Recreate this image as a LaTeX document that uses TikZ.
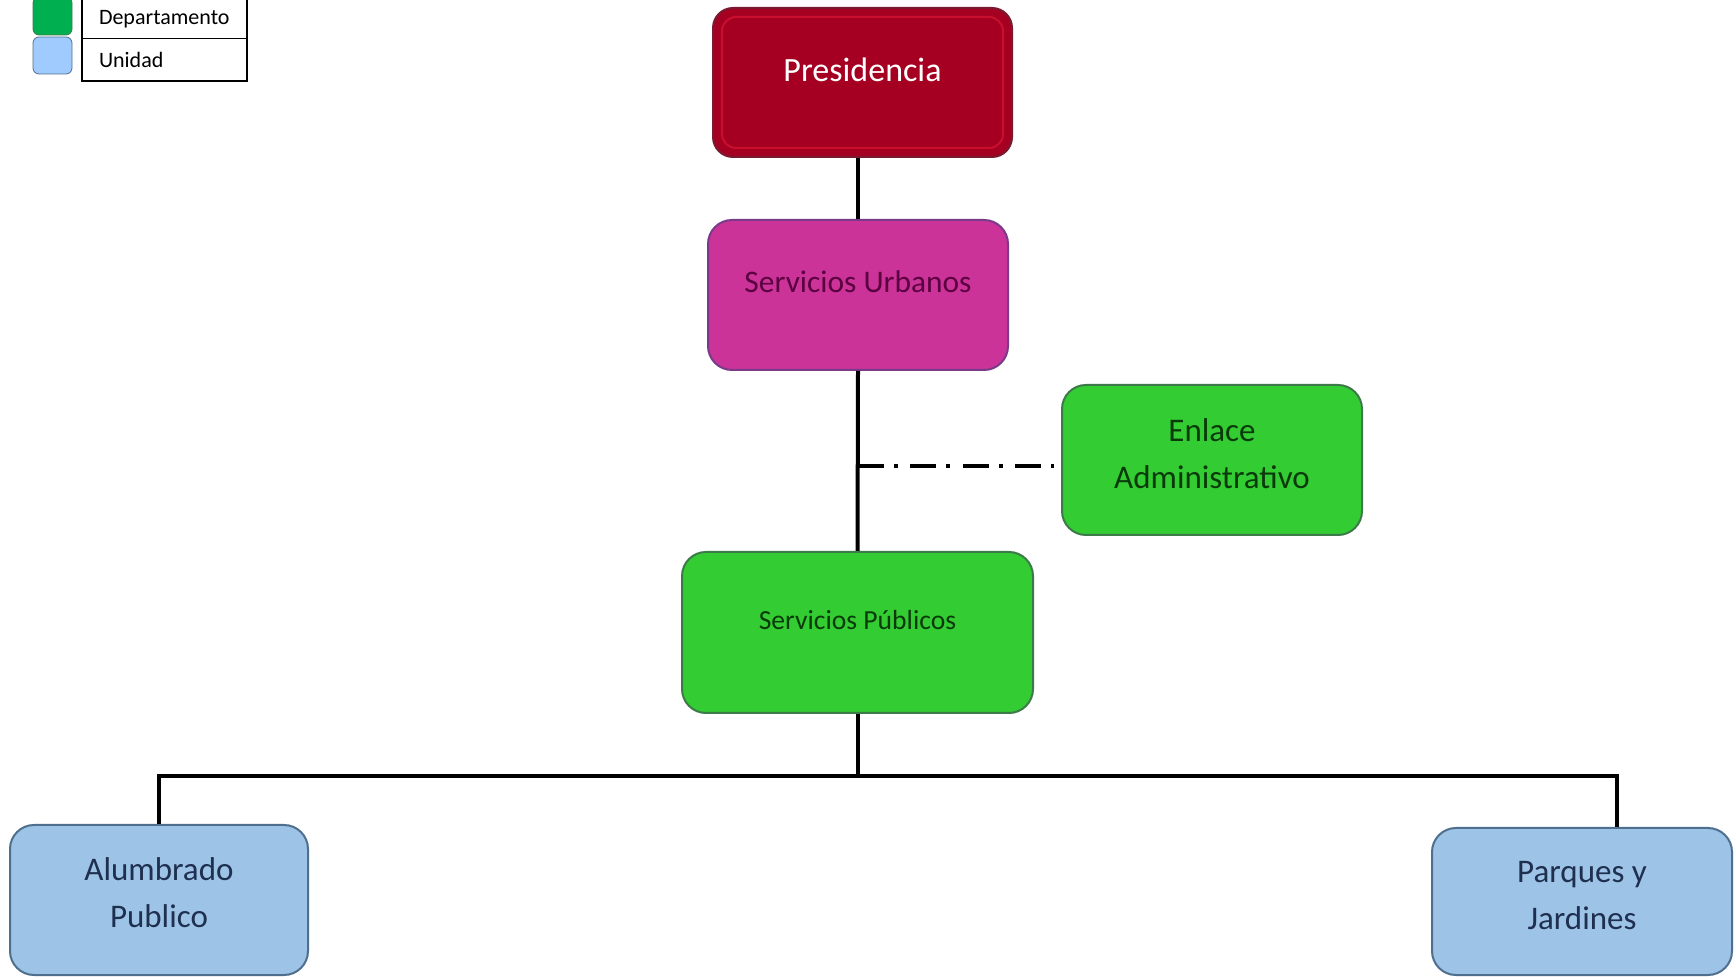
\documentclass[tikz,border=0pt]{standalone}
\usepackage{fontspec}
\setmainfont{Carlito}
\definecolor{presfill}{HTML}{A50021}
\definecolor{presline}{HTML}{7A1A30}
\definecolor{presinner}{HTML}{C8102E}
\definecolor{urbfill}{HTML}{CC3399}
\definecolor{urbline}{HTML}{7A3A8A}
\definecolor{urbtext}{HTML}{5A0040}
\definecolor{depfill}{HTML}{33CC33}
\definecolor{depline}{HTML}{3D7A4A}
\definecolor{deptext}{HTML}{0A3A0A}
\definecolor{unifill}{HTML}{9DC3E6}
\definecolor{uniline}{HTML}{4F6F8F}
\definecolor{unitext}{HTML}{1F2F4F}
\definecolor{leggreen}{HTML}{00B050}
\definecolor{legblue}{HTML}{A0CBFF}
\begin{document}
\begin{tikzpicture}[x=0.5pt,y=-0.5pt,
  box/.style={rounded corners=12pt, line width=1pt, inner sep=0pt},
  bigtext/.style={font=\fontsize{16.5}{23.5}\selectfont, align=center},
  conn/.style={line width=2pt, black}]
\clip (0,0) rectangle (1735,977);
% legend:
\node[draw=depline, fill=leggreen, rounded corners=3pt, minimum width=19.5pt, minimum height=19pt, inner sep=0pt] (legdep) at (52.5,16) {};
\node[draw=uniline, fill=legblue, rounded corners=3pt, minimum width=19.5pt, minimum height=18.5pt, inner sep=0pt] (leguni) at (52.5,55.5) {};
\node[draw, line width=0.8pt, minimum height=19.75pt, text width=65.5pt, inner xsep=8.5pt, align=left, font=\fontsize{11}{13}\selectfont] (celldep) at (164.5,18.75) {Departamento};
\node[draw, line width=0.8pt, minimum height=21.25pt, text width=65.5pt, inner xsep=8.5pt, align=left, font=\fontsize{11}{13}\selectfont] (celluni) at (164.5,59.75) {Unidad};
% boxes:
\node[box, draw=presline, fill=presfill, rounded corners=10pt, minimum width=149.5pt, minimum height=74.5pt,
  label={[bigtext, text=white, font=\fontsize{17}{20}\selectfont, yshift=6.5pt]center:Presidencia}] (pres) at (862.5,82.5) {};
\draw[presinner, line width=1pt, rounded corners=7pt] ([shift={(5pt,-5pt)}]pres.north west) rectangle ([shift={(-5pt,5pt)}]pres.south east);
\node[box, draw=urbline, fill=urbfill, minimum width=150pt, minimum height=75pt,
  label={[bigtext, text=urbtext, font=\fontsize{15.7}{19}\selectfont, yshift=6.5pt]center:Servicios Urbanos}] (urb) at (858,295) {};
\node[box, draw=depline, fill=depfill, minimum width=150pt, minimum height=75pt,
  label={[bigtext, text=deptext, yshift=3pt]center:Enlace\\Administrativo}] (enl) at (1212,460) {};
\node[box, draw=depline, fill=depfill, minimum width=175.5pt, minimum height=80.5pt,
  label={[bigtext, text=deptext, font=\fontsize{13.8}{17}\selectfont, yshift=6pt]center:Servicios Públicos}] (pub) at (857.5,632.5) {};
\node[box, draw=uniline, fill=unifill, minimum width=149pt, minimum height=75pt,
  label={[bigtext, text=unitext, yshift=3.5pt]center:Alumbrado\\Publico}] (alu) at (159,900) {};
\node[box, draw=uniline, fill=unifill, minimum width=150pt, minimum height=73.5pt,
  label={[bigtext, text=unitext, yshift=3pt]center:Parques y\\Jardines}] (par) at (1582,901.5) {};
% lines:
\coordinate (bus) at (857.5,776);
\coordinate (tap) at ([shift={(-3.5pt,-3pt)}]enl.west);
\draw[conn] (pres.south -| urb.north) -- (urb.north);
\draw[conn] (urb.south) -- (pub.north);
\draw[conn, dash pattern=on 13pt off 5pt on 2pt off 6.2pt] (tap -| urb.south) -- (tap);
\draw[conn] (pub.south) -- (bus);
\draw[conn] (alu.north) |- (bus) -| ([xshift=17.5pt]par.north);
\end{tikzpicture}
\end{document}
